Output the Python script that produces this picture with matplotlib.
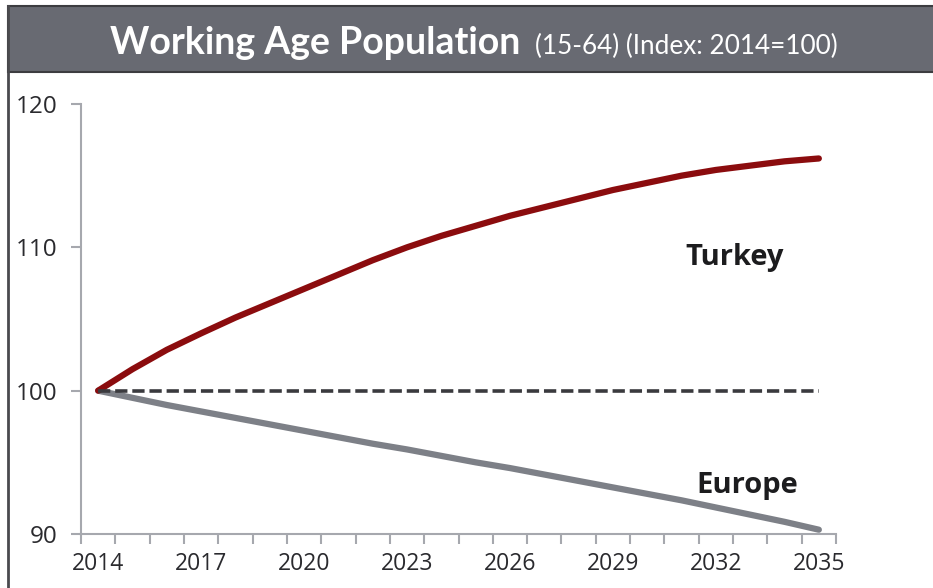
import matplotlib
matplotlib.use("Agg")
import matplotlib.pyplot as plt
from matplotlib.patches import Rectangle
from matplotlib.lines import Line2D

years = list(range(2014, 2036))
tick_years = [2014, 2017, 2020, 2023, 2026, 2029, 2032, 2035]
turkey = [100.0, 101.5, 102.85, 104.0, 105.1, 106.1, 107.1, 108.1, 109.1, 110.0, 110.8,
          111.5, 112.2, 112.8, 113.4, 114.0, 114.5, 115.0, 115.4, 115.7, 116.0, 116.2]
europe = [100.0, 99.5, 99.0, 98.55, 98.1, 97.65, 97.2, 96.75, 96.3, 95.9, 95.45,
          95.0, 94.6, 94.15, 93.7, 93.25, 92.8, 92.35, 91.85, 91.35, 90.85, 90.3]
baseline = [100.0] * len(years)

W, H = 933, 588
fig = plt.figure(figsize=(W / 100, H / 100), dpi=100)
fig.patch.set_facecolor("white")

# header band and frame
fig.add_artist(Rectangle((8 / W, 1 - 72 / H), 1, 66 / H, transform=fig.transFigure,
                         facecolor="#686a72", edgecolor="#3c3c40", linewidth=1.5))
fig.add_artist(Line2D([8 / W, 8 / W], [0, 1 - 6 / H], transform=fig.transFigure,
                      color="#4a4a4e", linewidth=2))

fig.text(520 / W, 1 - 54 / H, "Working Age Population", color="white", fontsize=27,
         fontweight="bold", family="Lato", ha="right", va="baseline")
fig.text(535 / W, 1 - 54 / H, "(15-64) (Index: 2014=100)", color="white", fontsize=18.8,
         family="Lato", ha="left", va="baseline")

ax = fig.add_axes([81 / W, 1 - 534 / H, (836 - 81) / W, (534 - 104) / H])
x = list(range(len(years)))

ax.plot(x, baseline, color="#3a3a3e", linewidth=2.6, dashes=(3.4, 1.35), zorder=3)
ax.plot(x, europe, color="#7d8087", linewidth=4.5, solid_capstyle="round", zorder=2)
ax.plot(x, turkey, color="#8b0c0e", linewidth=4.5, solid_capstyle="round", zorder=2)

ax.set_xlim(-0.5, len(years) - 0.5)
ax.set_ylim(90, 120)
ax.set_yticks([90, 100, 110, 120])
ax.set_xticks([years.index(y) for y in tick_years])
ax.set_xticklabels([str(y) for y in tick_years])
ax.set_xticks([i - 0.5 for i in range(len(years) + 1)], minor=True)

for side in ["top", "right"]:
    ax.spines[side].set_visible(False)
for side in ["left", "bottom"]:
    ax.spines[side].set_color("#a6a8ae")
    ax.spines[side].set_linewidth(1.5)

ax.tick_params(axis="x", which="major", length=0, pad=13, labelsize=16.5, labelcolor="#2a2a2e")
ax.tick_params(axis="x", which="minor", length=7, width=1.5, color="#a6a8ae")
ax.tick_params(axis="y", length=7, width=1.5, color="#a6a8ae", pad=10,
               labelsize=17.5, labelcolor="#2a2a2e")
for lab in ax.get_xticklabels() + ax.get_yticklabels():
    lab.set_family("Open Sans")

ax.text(735 / W, 1 - 257 / H, "Turkey", transform=fig.transFigure, fontsize=21,
        fontweight="bold", family="Open Sans", color="#1c1c1e", ha="center", va="center")
ax.text(747 / W, 1 - 485 / H, "Europe", transform=fig.transFigure, fontsize=21,
        fontweight="bold", family="Open Sans", color="#1c1c1e", ha="center", va="center")

fig.savefig("out.png", dpi=100)
